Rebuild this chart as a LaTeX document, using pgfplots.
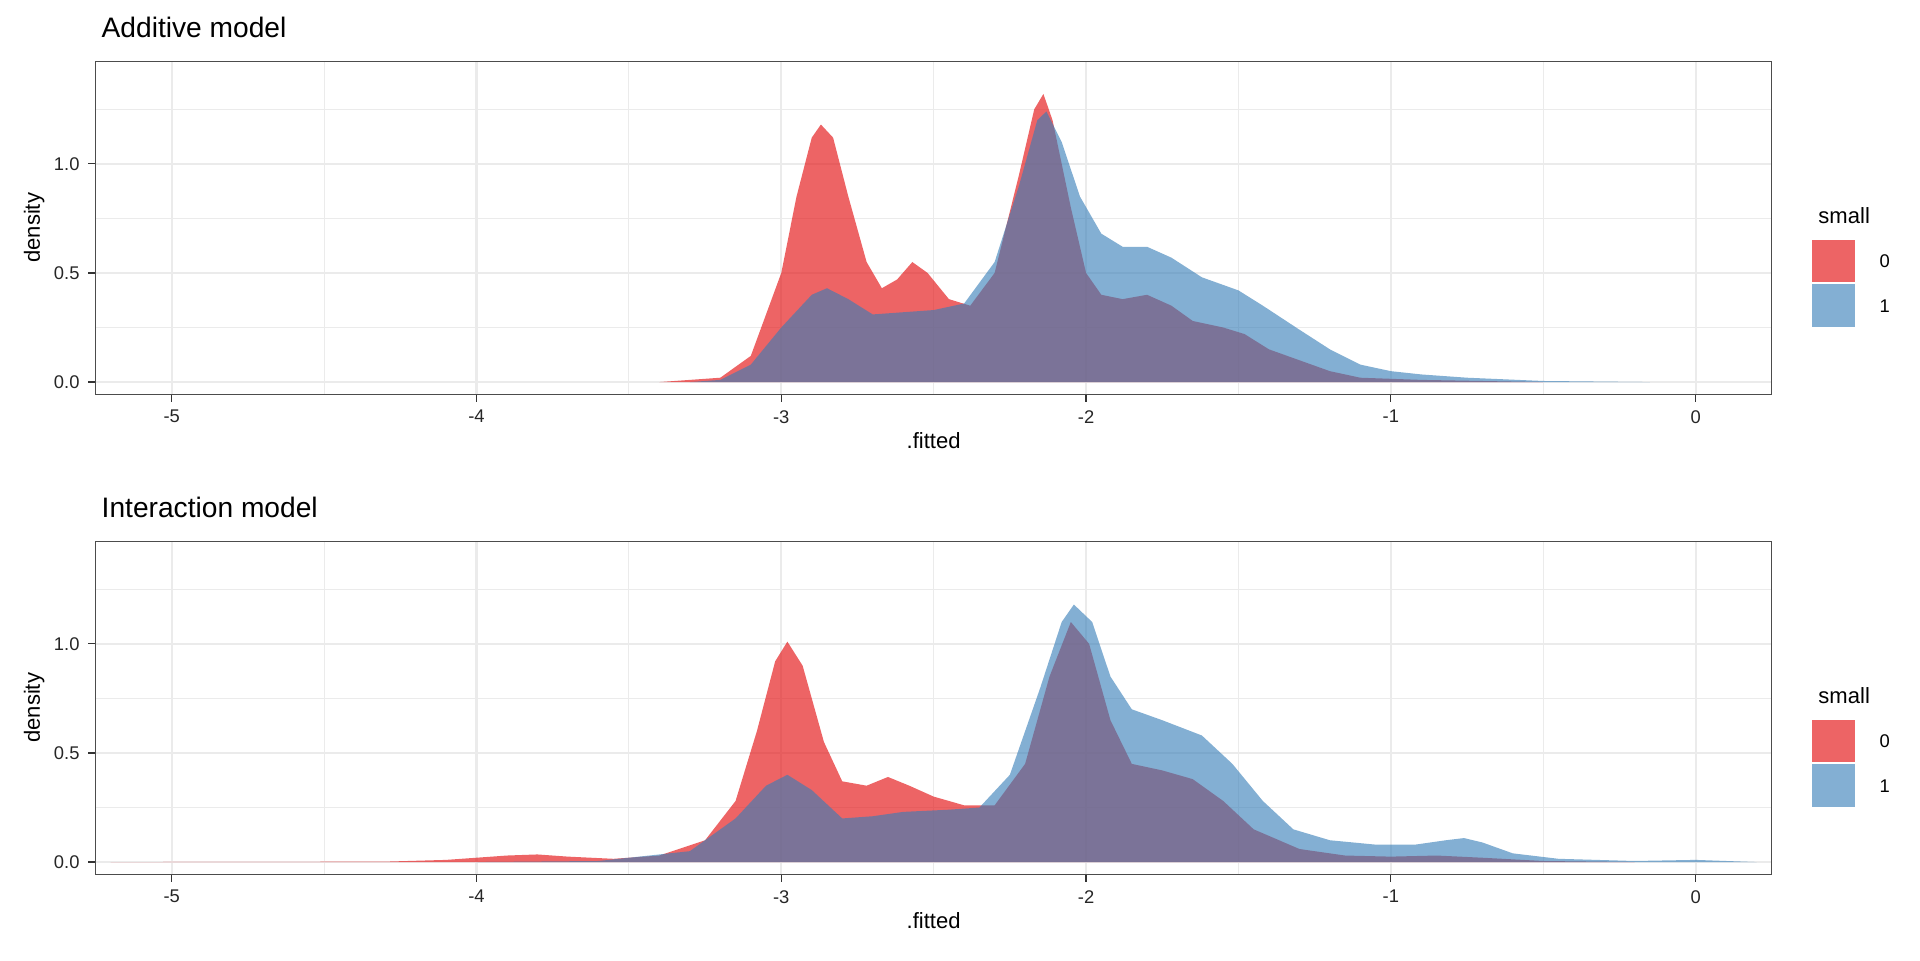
\documentclass[border=0pt]{standalone}
\usepackage{pgfplots}
\pgfplotsset{compat=1.18}
\usepackage{fontspec}
\setmainfont{Liberation Sans}
\definecolor{cred}{HTML}{E41A1C}
\definecolor{cblue}{HTML}{377EB8}
\definecolor{gridc}{gray}{0.92}
\pgfplotsset{
  myax/.style={scale only axis, width=684.5pt, height=136pt, anchor=north west,
    xmin=-5.25, xmax=0.25, ymin=-0.056, ymax=1.47,
    xtick={-5,-4,-3,-2,-1,0}, minor xtick={-4.5,-3.5,-2.5,-1.5,-0.5},
    ytick={0,0.5,1}, minor ytick={0.25,0.75,1.25},
    grid=both, major grid style={gridc, line width=0.9pt}, minor grid style={gridc, line width=0.45pt},
    axis line style={gray!60!black, line width=0.5pt}, tick style={gray!40!black, line width=0.5pt},
    major tick length=3pt, minor tick length=0pt,
    tick align=outside, xtick pos=bottom, ytick pos=left,
    /pgf/number format/assume math mode=true,
    yticklabel style={/pgf/number format/.cd, fixed, fixed zerofill, precision=1},
    ticklabel style={font=\fontsize{7.5}{8}\selectfont, text=gray!30!black},
    label style={font=\fontsize{9}{10}\selectfont},
    xlabel={.fitted}, ylabel={density},
    xlabel style={yshift=3pt}, ylabel style={yshift=-3pt},
    title style={font=\fontsize{11.5}{12}\selectfont, anchor=south west, at={(0,1)}, xshift=-1pt, yshift=0pt},
  }
}
\begin{document}
\begin{tikzpicture}
\useasboundingbox (0,0) rectangle (784pt,-392pt);
\begin{axis}[myax, at={(39pt,-25pt)}, title={Additive model}]
\addplot[fill=cred, fill opacity=0.68, draw=none] coordinates {(-3.4,0) (-3.2,0.02) (-3.1,0.12) (-3.0,0.5) (-2.95,0.85) (-2.9,1.12) (-2.87,1.18) (-2.83,1.12) (-2.78,0.85) (-2.72,0.55) (-2.67,0.43) (-2.62,0.47) (-2.57,0.55) (-2.52,0.5) (-2.45,0.38) (-2.38,0.35) (-2.3,0.5) (-2.22,0.95) (-2.17,1.25) (-2.14,1.32) (-2.11,1.2) (-2.05,0.8) (-2.0,0.5) (-1.95,0.4) (-1.88,0.38) (-1.8,0.40) (-1.72,0.35) (-1.65,0.28) (-1.55,0.25) (-1.48,0.22) (-1.4,0.15) (-1.3,0.10) (-1.2,0.05) (-1.1,0.02) (-0.9,0.01) (-0.7,0.005) (-0.5,0)} \closedcycle;
\addplot[fill=cblue, fill opacity=0.62, draw=none] coordinates {(-3.3,0) (-3.2,0.01) (-3.1,0.08) (-3.0,0.25) (-2.9,0.4) (-2.85,0.43) (-2.78,0.38) (-2.7,0.31) (-2.6,0.32) (-2.5,0.33) (-2.4,0.36) (-2.3,0.55) (-2.22,0.9) (-2.16,1.2) (-2.13,1.24) (-2.08,1.1) (-2.02,0.85) (-1.95,0.68) (-1.88,0.62) (-1.8,0.62) (-1.72,0.57) (-1.62,0.48) (-1.5,0.42) (-1.42,0.35) (-1.3,0.24) (-1.2,0.15) (-1.1,0.08) (-1.0,0.05) (-0.9,0.035) (-0.75,0.02) (-0.5,0.005) (-0.15,0)} \closedcycle;
\end{axis}
\begin{axis}[myax, at={(39pt,-221pt)}, title={Interaction model}]
\addplot[fill=cred, fill opacity=0.68, draw=none] coordinates {(-5.2,0) (-4.3,0.002) (-4.1,0.01) (-3.9,0.03) (-3.8,0.035) (-3.7,0.025) (-3.55,0.015) (-3.4,0.03) (-3.25,0.1) (-3.15,0.28) (-3.08,0.6) (-3.02,0.92) (-2.98,1.01) (-2.93,0.9) (-2.86,0.55) (-2.8,0.37) (-2.72,0.35) (-2.65,0.39) (-2.58,0.35) (-2.5,0.3) (-2.4,0.26) (-2.3,0.26) (-2.2,0.45) (-2.12,0.85) (-2.05,1.1) (-1.99,1.0) (-1.92,0.65) (-1.85,0.45) (-1.75,0.42) (-1.65,0.38) (-1.55,0.28) (-1.45,0.15) (-1.3,0.06) (-1.15,0.03) (-1.0,0.025) (-0.85,0.03) (-0.7,0.02) (-0.5,0.005) (-0.2,0)} \closedcycle;
\addplot[fill=cblue, fill opacity=0.62, draw=none] coordinates {(-4.0,0) (-3.6,0.005) (-3.3,0.05) (-3.15,0.2) (-3.05,0.35) (-2.98,0.40) (-2.9,0.33) (-2.8,0.2) (-2.7,0.21) (-2.6,0.23) (-2.45,0.24) (-2.35,0.25) (-2.25,0.4) (-2.15,0.8) (-2.08,1.1) (-2.04,1.18) (-1.98,1.1) (-1.92,0.85) (-1.85,0.7) (-1.75,0.65) (-1.62,0.58) (-1.52,0.45) (-1.42,0.28) (-1.32,0.15) (-1.2,0.1) (-1.05,0.08) (-0.92,0.08) (-0.82,0.1) (-0.76,0.11) (-0.7,0.09) (-0.6,0.04) (-0.45,0.015) (-0.2,0.005) (0,0.01) (0.2,0)} \closedcycle;
\end{axis}
\foreach \yy in {0,196} {
  \node[anchor=west, font=\fontsize{9}{10}\selectfont] at (739pt,{-(88+\yy)*1pt}) {small};
  \fill[cred, fill opacity=0.68] (740pt,{-(98+\yy)*1pt}) rectangle (757.5pt,{-(115+\yy)*1pt});
  \fill[cblue, fill opacity=0.62] (740pt,{-(116+\yy)*1pt}) rectangle (757.5pt,{-(133.5+\yy)*1pt});
  \node[anchor=west, font=\fontsize{7.5}{8}\selectfont] at (764pt,{-(106.5+\yy)*1pt}) {0};
  \node[anchor=west, font=\fontsize{7.5}{8}\selectfont] at (764pt,{-(125+\yy)*1pt}) {1};
}
\end{tikzpicture}
\end{document}
